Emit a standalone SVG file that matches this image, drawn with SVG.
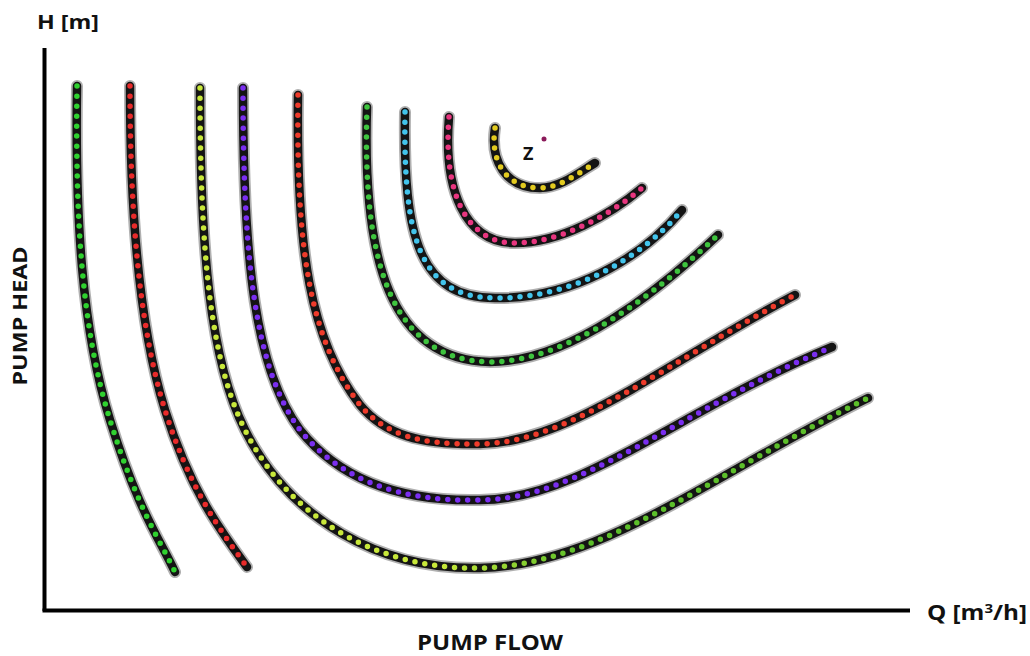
<svg xmlns="http://www.w3.org/2000/svg" width="1030" height="656" viewBox="0 0 1030 656">
  <defs>
    <style>
      .lbl { font-family: "Open Sans", "Liberation Sans", sans-serif; font-weight: 700; fill: #111; }
      .halo { fill: none; stroke: #3a3a3a; stroke-opacity: 0.4; stroke-width: 12; stroke-linecap: round; stroke-linejoin: round; }
      .core { fill: none; stroke: #141414; stroke-width: 8.5; stroke-linecap: round; stroke-linejoin: round; }
      .dots { fill: none; stroke-width: 5.5; stroke-linecap: round; stroke-dasharray: 0 10; }
      .axis { fill: none; stroke: #000; stroke-width: 4; }
    </style>
    <linearGradient id="g3" gradientUnits="userSpaceOnUse" x1="440" y1="0" x2="580" y2="0">
      <stop offset="0" stop-color="#c8e83a"/>
      <stop offset="1" stop-color="#5cbf2a"/>
    </linearGradient>
  </defs>
  <rect width="1030" height="656" fill="#fff"/>

  <g id="axes">
    <line class="axis" x1="44.5" y1="48" x2="44.5" y2="611"/>
    <line class="axis" x1="42.5" y1="610.5" x2="910" y2="610.5"/>
  </g>

  <g id="labels">
    <text class="lbl" x="37" y="29" font-size="20" textLength="62" lengthAdjust="spacingAndGlyphs">H [m]</text>
    <text class="lbl" x="927" y="620" font-size="21" textLength="100" lengthAdjust="spacingAndGlyphs">Q [m<tspan font-size="13" dy="-7">3</tspan><tspan dy="7">/h]</tspan></text>
    <text class="lbl" transform="translate(26.5,316) rotate(-90)" text-anchor="middle" font-size="20" textLength="139" lengthAdjust="spacingAndGlyphs">PUMP HEAD</text>
    <text class="lbl" x="490" y="650" text-anchor="middle" font-size="22" textLength="146" lengthAdjust="spacingAndGlyphs">PUMP FLOW</text>
  </g>

  <g id="curves">
    <g id="curve1">
      <path class="halo" d="M77,86 C75,220 82,330 110,420 S160,540 175,572"/>
      <path class="core" d="M77,86 C75,220 82,330 110,420 S160,540 175,572"/>
      <path class="dots" stroke="#2fd12f" d="M77,86 C75,220 82,330 110,420 S160,540 175,572"/>
    </g>
    <g id="curve2">
      <path class="halo" d="M130,86 C130,220 140,330 165,410 S220,530 247,567"/>
      <path class="core" d="M130,86 C130,220 140,330 165,410 S220,530 247,567"/>
      <path class="dots" stroke="#e82a2a" d="M130,86 C130,220 140,330 165,410 S220,530 247,567"/>
    </g>
    <g id="curve3">
      <path class="halo" d="M200,88 C200,250 210,360 245,430 C290,520 380,570 480,568 C600,566 720,470 868,398"/>
      <path class="core" d="M200,88 C200,250 210,360 245,430 C290,520 380,570 480,568 C600,566 720,470 868,398"/>
      <path class="dots" stroke="url(#g3)" d="M200,88 C200,250 210,360 245,430 C290,520 380,570 480,568 C600,566 720,470 868,398"/>
    </g>
    <g id="curve4">
      <path class="halo" d="M243,88 C243,260 255,370 300,430 C340,480 400,502 480,500 C580,500 680,410 832,347"/>
      <path class="core" d="M243,88 C243,260 255,370 300,430 C340,480 400,502 480,500 C580,500 680,410 832,347"/>
      <path class="dots" stroke="#7a2ef0" d="M243,88 C243,260 255,370 300,430 C340,480 400,502 480,500 C580,500 680,410 832,347"/>
    </g>
    <g id="curve5">
      <path class="halo" d="M298,95 C296,250 310,340 360,405 C385,435 420,445 480,444 C570,443 670,360 795,295"/>
      <path class="core" d="M298,95 C296,250 310,340 360,405 C385,435 420,445 480,444 C570,443 670,360 795,295"/>
      <path class="dots" stroke="#ee3b2b" d="M298,95 C296,250 310,340 360,405 C385,435 420,445 480,444 C570,443 670,360 795,295"/>
    </g>
    <g id="curve6">
      <path class="halo" d="M367,107 C362,260 390,360 490,362 C570,362 660,290 718,235"/>
      <path class="core" d="M367,107 C362,260 390,360 490,362 C570,362 660,290 718,235"/>
      <path class="dots" stroke="#3ec43e" d="M367,107 C362,260 390,360 490,362 C570,362 660,290 718,235"/>
    </g>
    <g id="curve7">
      <path class="halo" d="M405,112 C403,240 420,297 495,298 C570,299 640,260 682,210"/>
      <path class="core" d="M405,112 C403,240 420,297 495,298 C570,299 640,260 682,210"/>
      <path class="dots" stroke="#42c4ec" d="M405,112 C403,240 420,297 495,298 C570,299 640,260 682,210"/>
    </g>
    <g id="curve8">
      <path class="halo" d="M449,117 C443,190 465,243 515,243 C560,243 610,215 642,188"/>
      <path class="core" d="M449,117 C443,190 465,243 515,243 C560,243 610,215 642,188"/>
      <path class="dots" stroke="#e8357f" d="M449,117 C443,190 465,243 515,243 C560,243 610,215 642,188"/>
    </g>
    <g id="curve9">
      <path class="halo" d="M495,128 C490,160 505,188 540,188 C560,188 580,172 595,163"/>
      <path class="core" d="M495,128 C490,160 505,188 540,188 C560,188 580,172 595,163"/>
      <path class="dots" stroke="#e3cb1f" d="M495,128 C490,160 505,188 540,188 C560,188 580,172 595,163"/>
    </g>
  </g>

  <g id="pointZ">
    <text class="lbl" x="523" y="160" font-size="18">Z</text>
    <circle cx="544" cy="139" r="2.5" fill="#8b1a5a"/>
  </g>
</svg>
